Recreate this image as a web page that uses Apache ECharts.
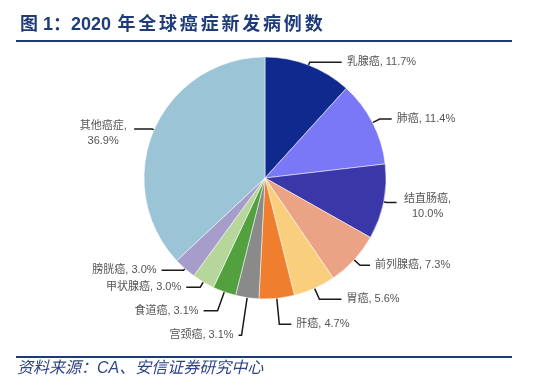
<!DOCTYPE html>
<html><head><meta charset="utf-8">
<script src="https://cdn.jsdelivr.net/npm/echarts@6/dist/echarts.min.js"></script>
<style>html,body{margin:0;padding:0;background:#fff}#c{width:554px;height:387px}</style>
</head><body><div id="c"></div>
<script>
const categories = ['乳腺癌','肺癌','结直肠癌','前列腺癌','胃癌','肝癌','宫颈癌','食道癌','甲状腺癌','膀胱癌','其他癌症'];
const values = [11.7, 11.4, 10.0, 7.3, 5.6, 4.7, 3.1, 3.1, 3.0, 3.0, 36.9];
const colors = ['#10298f','#7a78f6','#3a37a8','#eba386','#f9cf7e','#ef7f2e','#8a8a8a','#53a03e','#b6d69b','#a79dcb','#9bc5d6'];
const lineLen = [[3,32],[8,12],[3,10],[8,10],[12,22],[26,12],[38,3],[20,14],[6,14],[2,22],[2,18]];
const wrapped = ['结直肠癌','其他癌症'];
const titleHead = '图 1：2020 ';
const titleBody = '年全球癌症新发病例数';
const sourceText = '资料来源：CA、安信证券研究中心';

const FONT = '"Liberation Sans", "Noto Sans CJK SC", sans-serif';
const data = categories.map((n, i) => {
  const item = {
    name: n, value: values[i],
    itemStyle: { color: colors[i] },
    labelLine: { length: lineLen[i][0], length2: lineLen[i][1] }
  };
  if (wrapped.includes(n)) item.label = { padding: [9, 0, 0, 0] };
  return item;
});

const chart = echarts.init(document.getElementById('c'));
chart.setOption({
  animation: false,
  title: {
    text: '{h|' + titleHead + '}' + titleBody.split('').map(c => '{w|' + c + '}').join(''),
    left: 15, top: 11,
    textStyle: {
      rich: {
        h: { fontSize: 18, fontWeight: 'bold', color: '#1f3c7a', fontFamily: FONT },
        w: { fontSize: 18, fontWeight: 'bold', color: '#1f3c7a', fontFamily: FONT, width: 20.8, align: 'center' }
      }
    }
  },
  graphic: [
    { type: 'line', shape: { x1: 16, y1: 41, x2: 512, y2: 41 }, style: { stroke: '#1f3a7a', lineWidth: 2 } },
    { type: 'line', shape: { x1: 16, y1: 357, x2: 512, y2: 357 }, style: { stroke: '#1f3a7a', lineWidth: 2 } },
    { type: 'text', left: 17, top: 361, style: { text: sourceText, font: 'italic 16px ' + FONT, fill: '#2f4486' } }
  ],
  series: [{
    type: 'pie',
    center: [265, 178],
    radius: 121,
    startAngle: 90,
    clockwise: true,
    avoidLabelOverlap: false,
    itemStyle: { borderColor: '#fff', borderWidth: 0.5 },
    label: {
      fontSize: 11, color: '#555', fontFamily: FONT,
      formatter: p => {
        const v = p.value.toFixed(1) + '%';
        if (wrapped.includes(p.name)) return '{m|' + p.name + ',}\n{m|' + v + '}';
        return p.name + ', ' + v;
      },
      rich: { m: { fontSize: 11, color: '#555', fontFamily: FONT, width: 52, align: 'center', lineHeight: 15 } }
    },
    labelLine: { show: true, smooth: false, lineStyle: { color: '#1a1a1a', width: 1.5 } },
    data: data
  }]
});
</script></body></html>
